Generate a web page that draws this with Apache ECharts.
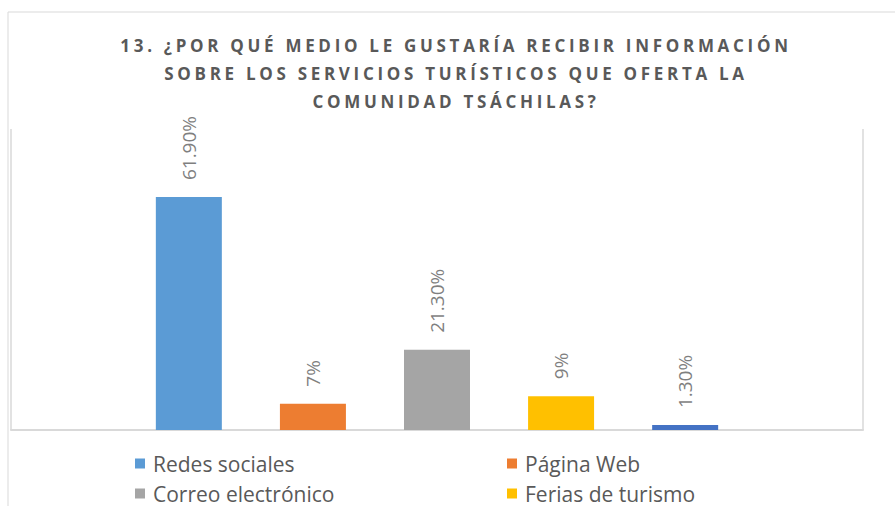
<!DOCTYPE html>
<html><head><meta charset="utf-8">
<script src="https://cdn.jsdelivr.net/npm/echarts@6/dist/echarts.min.js"></script>
<style>
html,body{margin:0;padding:0;background:#fff;}
#c{width:895px;height:506px;}
svg text[style*="bold"]{letter-spacing:3.7px;}
</style>
</head><body>
<div id="c"></div>
<script>
const titleLines = ["13. ¿POR QUÉ MEDIO LE GUSTARÍA RECIBIR INFORMACIÓN", "SOBRE LOS SERVICIOS TURÍSTICOS QUE OFERTA LA", "COMUNIDAD TSÁCHILAS?"];
const category = [""];
const seriesNames = ["Redes sociales", "Página Web", "Correo electrónico", "Ferias de turismo", "Otros"];
const seriesValues = [61.9, 7, 21.3, 9, 1.3];
const seriesLabels = ["61.90%", "7%", "21.30%", "9%", "1.30%"];
const seriesColors = ["#5B9BD5", "#ED7D31", "#A5A5A5", "#FFC000", "#4472C4"];
const legendCol1 = ["Redes sociales", "Correo electrónico"];
const legendCol2 = ["Página Web", "Ferias de turismo"];

const chart = echarts.init(document.getElementById('c'), null, {renderer: 'svg'});
const series = seriesNames.map((n, i) => ({
  name: n, type: 'bar', data: [seriesValues[i]],
  barWidth: 66, barGap: '88%',
  itemStyle: {color: seriesColors[i]},
  label: {show: true, position: 'top', rotate: 90, align: 'left', verticalAlign: 'middle',
    distance: 17, formatter: () => seriesLabels[i],
    color: '#7f7f7f', fontSize: 19, fontFamily: 'Open Sans'}
}));
const legendBase = {
  orient: 'vertical', icon: 'rect', itemWidth: 10, itemHeight: 10, itemGap: 9,
  textStyle: {color: '#595959', fontSize: 21, fontFamily: 'Open Sans', padding: [0,0,0,3]},
  selectedMode: false, padding: 0
};
chart.setOption({
  animation: false,
  backgroundColor: '#fff',
  title: {text: titleLines.join('\n'), left: 456, top: 31, textAlign: 'center', padding: 0,
    textStyle: {color: '#595959', fontSize: 17, fontWeight: 'bold', fontFamily: 'Open Sans', lineHeight: 28}},
  graphic: [{type: 'rect', shape: {x: 8, y: 12, width: 1000, height: 700}, style: {fill: 'none', stroke: '#d9d9d9', lineWidth: 1}, silent: true}],
  legend: [
    Object.assign({}, legendBase, {data: legendCol1, left: 135, top: 453}),
    Object.assign({}, legendBase, {data: legendCol2, left: 507, top: 453})
  ],
  grid: {left: 11, right: 32, top: 129, bottom: 76},
  xAxis: {type: 'category', data: category,
    axisLine: {show: true, lineStyle: {color: '#d9d9d9', width: 2}},
    axisTick: {show: false}, axisLabel: {show: false},
    splitLine: {show: true, lineStyle: {color: '#d9d9d9', width: 1.5}}},
  yAxis: {type: 'value', min: 0, max: 80, show: false, splitLine: {show: false}},
  series: series
});
</script>
</body></html>
